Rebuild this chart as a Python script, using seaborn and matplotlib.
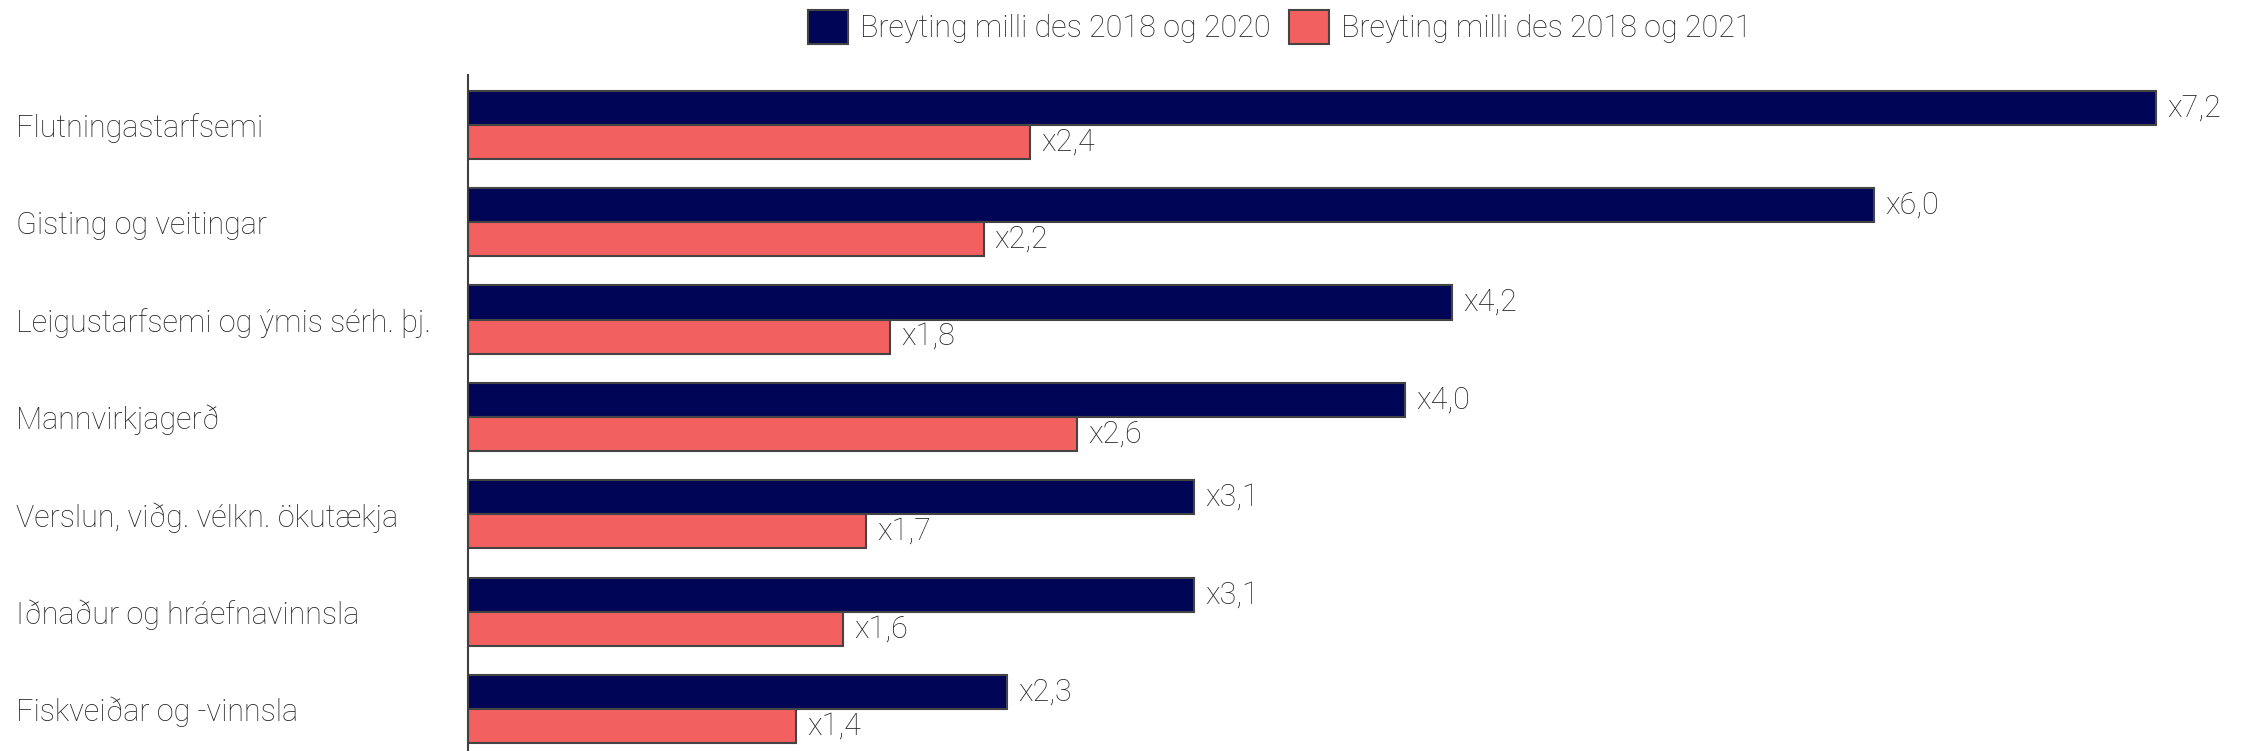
import seaborn as sns
import pandas as pd
import matplotlib.pyplot as plt
from matplotlib import font_manager

categories = ["Flutningastarfsemi", "Gisting og veitingar", "Leigustarfsemi og ýmis sérh. þj.",
              "Mannvirkjagerð", "Verslun, viðg. vélkn. ökutækja", "Iðnaður og hráefnavinnsla",
              "Fiskveiðar og -vinnsla"]
change_2020 = [7.2, 6.0, 4.2, 4.0, 3.1, 3.1, 2.3]
change_2021 = [2.4, 2.2, 1.8, 2.6, 1.7, 1.6, 1.4]
series = ["Breyting milli des 2018 og 2020", "Breyting milli des 2018 og 2021"]
colors = ["#000655", "#F26060"]

sns.set_style("white")
names = set(f.name for f in font_manager.fontManager.ttflist)
fam = [f for f in ["Liberation Sans Narrow", "Roboto", "DejaVu Sans"] if f in names]
plt.rcParams['font.family'] = fam
plt.rcParams['font.weight'] = 'light'
txt = "#262626"

df = pd.DataFrame({
    "cat": categories * 2,
    "val": change_2020 + change_2021,
    "series": [series[0]] * len(categories) + [series[1]] * len(categories),
})

fig = plt.figure(figsize=(22.49, 7.51), dpi=100)
ax = fig.add_axes([0.208, 0.0, 0.788, 0.9])
sns.barplot(data=df, y="cat", x="val", hue="series", palette=colors, width=0.7,
            saturation=1, edgecolor="#444444", linewidth=1.5, ax=ax, legend=True)

for cont in ax.containers:
    ax.bar_label(cont, labels=["x" + f"{v:.1f}".replace(".", ",") for v in cont.datavalues],
                 padding=8, fontsize=22, color=txt)

ax.set_xlim(0, 7.56)
ax.set_ylim(6.43, -0.51)
ax.set_xlabel("")
ax.set_ylabel("")
ax.set_xticks([])
for s in ["top", "right", "bottom"]:
    ax.spines[s].set_visible(False)
ax.spines["left"].set_color("#404040")
ax.spines["left"].set_linewidth(1.5)
ax.tick_params(axis="y", length=0, pad=452 * 0.72, labelsize=22, labelcolor=txt)
for t in ax.get_yticklabels():
    t.set_horizontalalignment("left")

leg = ax.legend(loc="center", bbox_to_anchor=(0.569, 0.964), bbox_transform=fig.transFigure,
                ncol=2, frameon=False, fontsize=22, handlelength=1.3, handleheight=1.3,
                columnspacing=0.6, handletextpad=0.4, labelcolor=txt)

plt.savefig("out.png", dpi=100)
